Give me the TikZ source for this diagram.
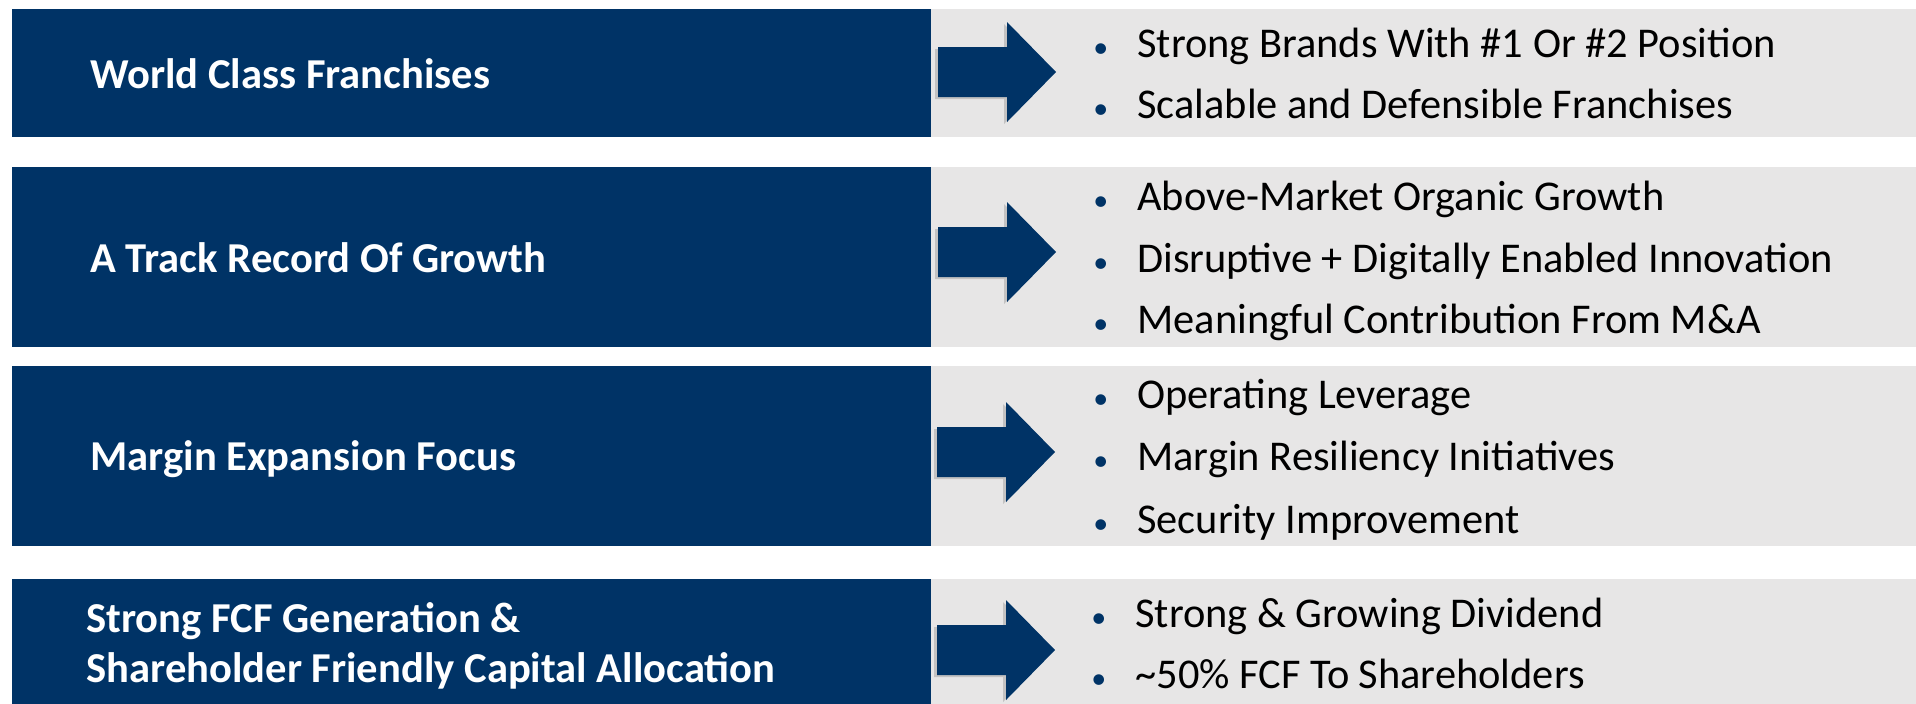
\documentclass[tikz,border=0pt]{standalone}
\usepackage{fontspec}
\setmainfont{Carlito}
\usepackage{tikz}
\usetikzlibrary{positioning,shadows}
\definecolor{navy}{RGB}{0,51,102}
\definecolor{panelgray}{RGB}{231,230,230}
\newcommand{\upx}{0.5pt}
\newcommand{\titlesize}{\fontsize{21.3}{25}\selectfont\bfseries}
\newcommand{\itemsize}{\fontsize{21.2}{24}\selectfont}
\newcommand{\bulletmark}{\makebox[22pt][l]{\textcolor{navy}{\fontsize{15}{15}\selectfont•}}}
% arrow drawn back from its tip
\newcommand{\bigarrow}[1]{%
\fill[navy, drop shadow={opacity=0.35, shadow xshift=-1.5pt, shadow yshift=-1pt}] (#1) -- ++(-49,-50) -- ++(0,25) -- ++(-69,0) -- ++(0,50) -- ++(69,0) -- ++(0,25) -- cycle;}

\begin{document}
\begin{tikzpicture}[x=\upx, y=-\upx,
  titlebox/.style={fill=navy, inner sep=0, anchor=north west, minimum width=919*\upx},
  panel/.style={fill=panelgray, inner sep=0, anchor=north west, minimum width=985*\upx},
  title/.style={text=white, font=\titlesize, anchor=base west, inner sep=0},
  point/.style={text=black, font=\itemsize, anchor=base west, inner sep=0}]
\useasboundingbox (0,0) rectangle (1916,703);
%rows
\node[titlebox, minimum height=128*\upx] (box1) at (12,9) {};
\node[panel, minimum height=128*\upx] (panel1) at (931,9) {};
\node[titlebox, minimum height=180*\upx] (box2) at (12,167) {};
\node[panel, minimum height=180*\upx] (panel2) at (931,167) {};
\node[titlebox, minimum height=180*\upx] (box3) at (12,366) {};
\node[panel, minimum height=180*\upx] (panel3) at (931,366) {};
\node[titlebox, minimum height=130*\upx] (box4) at (12,579) {};
\node[panel, minimum height=130*\upx] (panel4) at (931,579) {};
%titles
\node[title] (title1) at (90,88) {World Class Franchises};
\node[title] (title2) at (90,272) {A Track Record Of Growth};
\node[title] (title3) at (90,470) {Margin Expansion Focus};
\node[title] (title4a) at (86,632) {Strong FCF Generation \&};
\node[title] (title4b) at (86,682) {Shareholder Friendly Capital Allocation};
%arrows
\bigarrow{1056,72}
\bigarrow{1056,252}
\bigarrow{1055,452}
\bigarrow{1055,650}
%points
\node[point] (pt11) at (1093,57) {\bulletmark Strong Brands With \#1 Or \#2 Position};
\node[point] (pt12) at (1093,118) {\bulletmark Scalable and Defensible Franchises};
\node[point] (pt21) at (1093,210) {\bulletmark Above-Market Organic Growth};
\node[point] (pt22) at (1093,272) {\bulletmark Disruptive + Digitally Enabled Innovation};
\node[point] (pt23) at (1093,333) {\bulletmark Meaningful Contribution From M\&A};
\node[point] (pt31) at (1093,408) {\bulletmark Operating Leverage};
\node[point] (pt32) at (1093,470) {\bulletmark Margin Resiliency Initiatives};
\node[point] (pt33) at (1093,533) {\bulletmark Security Improvement};
\node[point] (pt41) at (1091,627) {\bulletmark Strong \& Growing Dividend};
\node[point] (pt42) at (1091,688) {\bulletmark \textasciitilde 50\% FCF To Shareholders};
\end{tikzpicture}
\end{document}
